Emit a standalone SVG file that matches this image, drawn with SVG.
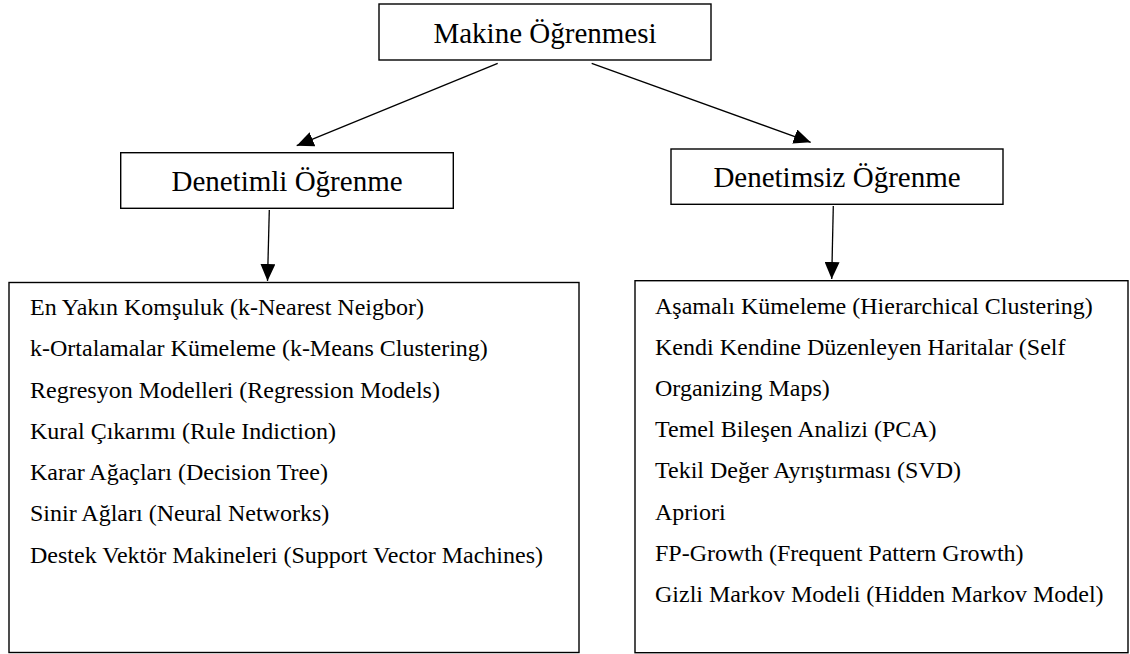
<svg xmlns="http://www.w3.org/2000/svg" width="1130" height="654" viewBox="0 0 1130 654">
  <style>
    .box { fill: #ffffff; stroke: #000000; stroke-width: 1.4; }
    .title { font-size: 29px; fill: #000000; text-anchor: middle; }
    .item { font-size: 24px; fill: #000000; }
    .conn { stroke: #000000; stroke-width: 1.3; fill: none; }
  </style>
  <defs>
    <marker id="arrow" viewBox="0 0 17 15" refX="17" refY="7.5" markerWidth="17" markerHeight="15" markerUnits="userSpaceOnUse" orient="auto">
      <path d="M0,0 L17,7.5 L0,15 z" fill="#000000"/>
    </marker>
  </defs>
  <rect width="1130" height="654" fill="#ffffff"/>

  <g id="connectors">
    <line class="conn" x1="497.7" y1="63.3" x2="296.7" y2="145.7" marker-end="url(#arrow)"/>
    <line class="conn" x1="591.7" y1="63.3" x2="810.7" y2="142.3" marker-end="url(#arrow)"/>
    <line class="conn" x1="269.3" y1="210" x2="267.5" y2="281" marker-end="url(#arrow)"/>
    <line class="conn" x1="833.3" y1="206" x2="831.7" y2="279" marker-end="url(#arrow)"/>
  </g>

  <g font-family="Liberation Serif, Tinos, Times New Roman, DejaVu Serif, serif">
  <g id="node-makine">
    <rect class="box" x="379" y="4" width="332" height="56"/>
    <text class="title" x="545" y="43">Makine Öğrenmesi</text>
  </g>

  <g id="node-denetimli">
    <rect class="box" x="120.7" y="152.7" width="332.6" height="55.6"/>
    <text class="title" x="287" y="191">Denetimli Öğrenme</text>
  </g>

  <g id="node-denetimsiz">
    <rect class="box" x="671" y="149" width="332" height="55.3"/>
    <text class="title" x="837" y="187">Denetimsiz Öğrenme</text>
  </g>

  <g id="node-supervised-list">
    <rect class="box" x="9" y="282.5" width="570" height="370"/>
    <text class="item" x="30" y="315">En Yakın Komşuluk (k-Nearest Neigbor)</text>
    <text class="item" x="30" y="356.3">k-Ortalamalar Kümeleme (k-Means Clustering)</text>
    <text class="item" x="30" y="397.5">Regresyon Modelleri (Regression Models)</text>
    <text class="item" x="30" y="438.8">Kural Çıkarımı (Rule Indiction)</text>
    <text class="item" x="30" y="480">Karar Ağaçları (Decision Tree)</text>
    <text class="item" x="30" y="521.3">Sinir Ağları (Neural Networks)</text>
    <text class="item" x="30" y="562.5">Destek Vektör Makineleri (Support Vector Machines)</text>
  </g>

  <g id="node-unsupervised-list">
    <rect class="box" x="635" y="280.7" width="493" height="372"/>
    <text class="item" x="655" y="313.5">Aşamalı Kümeleme (Hierarchical Clustering)</text>
    <text class="item" x="655" y="354.7">Kendi Kendine Düzenleyen Haritalar (Self</text>
    <text class="item" x="655" y="395.9">Organizing Maps)</text>
    <text class="item" x="655" y="437.1">Temel Bileşen Analizi (PCA)</text>
    <text class="item" x="655" y="478.3">Tekil Değer Ayrıştırması (SVD)</text>
    <text class="item" x="655" y="519.5">Apriori</text>
    <text class="item" x="655" y="560.7">FP-Growth (Frequent Pattern Growth)</text>
    <text class="item" x="655" y="601.9">Gizli Markov Modeli (Hidden Markov Model)</text>
  </g>
  </g>
</svg>
